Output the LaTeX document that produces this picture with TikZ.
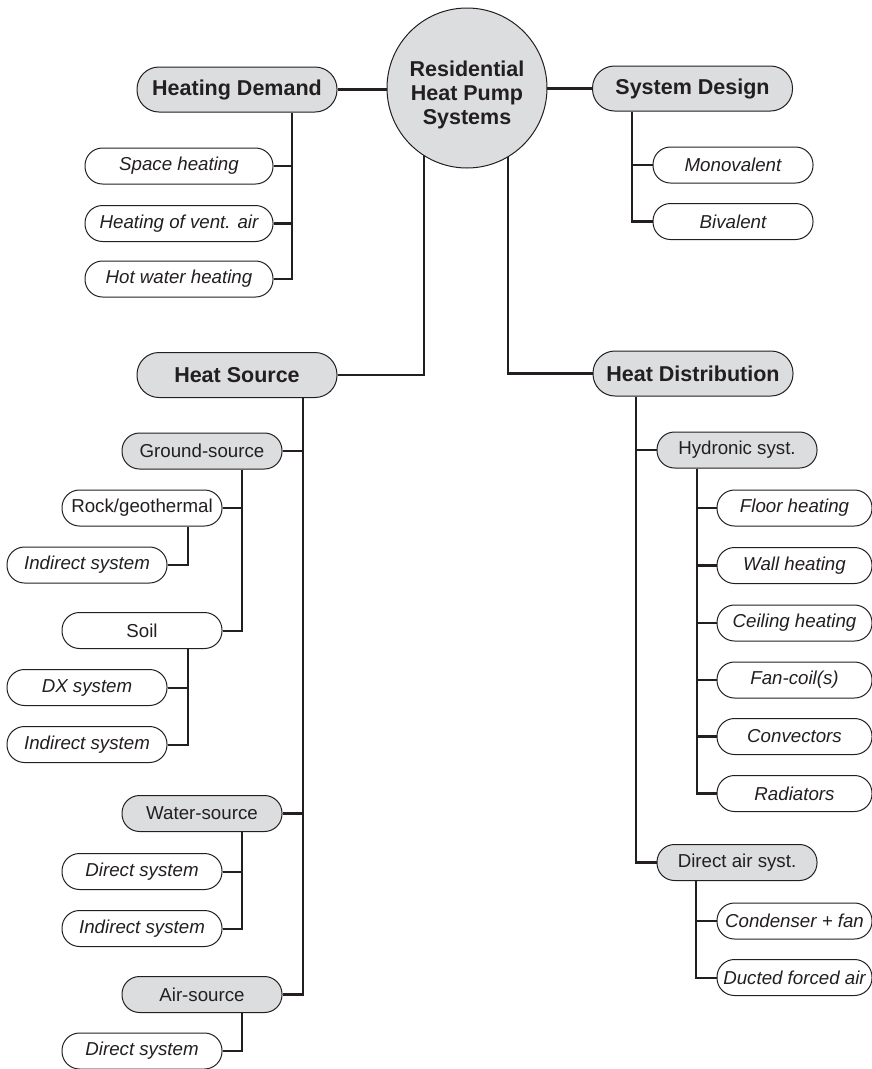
\documentclass[tikz,border=0pt]{standalone}
\usepackage{fontspec}
\setmainfont{Liberation Sans}
\usetikzlibrary{backgrounds}
\definecolor{boxgray}{HTML}{DCDDDE}
\definecolor{ink}{HTML}{231F20}
\tikzset{
  base/.style={draw=ink, text=ink, line width=1pt, inner sep=0pt, align=center},
  mainbox/.style={base, fill=boxgray, rounded corners=22pt, minimum width=200pt, minimum height=45pt,
    font=\bfseries\fontsize{21.5}{25}\selectfont},
  subbox/.style={base, fill=boxgray, rounded corners=17.5pt, minimum width=160pt, minimum height=36pt,
    font=\fontsize{18.7}{22}\selectfont},
  leafbox/.style={base, fill=white, rounded corners=17.5pt, minimum width=160pt, minimum height=36pt,
    font=\itshape\fontsize{18.7}{22}\selectfont},
  plainbox/.style={leafbox, font=\fontsize{18.7}{22}\selectfont},
  rootbox/.style={base, circle, fill=boxgray, minimum size=160pt,
    font=\bfseries\fontsize{21.5}{24}\selectfont},
  heavy/.style={draw=ink, line width=2.8pt},
  light/.style={draw=ink, line width=2pt},
}
\begin{document}
\begin{tikzpicture}[x=1pt, y=-1pt]
\useasboundingbox (0,0) rectangle (872,1069);

% root
\node[rootbox] (root) at (467,88) {\rule{0pt}{29pt}Residential\\Heat Pump\\Systems};

% top level
\node[mainbox] (hd) at (237,89.5) {Heating Demand};
\node[mainbox] (sd) at (692.5,88.5) {System Design};
\node[mainbox] (hs) at (237,375) {Heat Source};
\node[mainbox] (hdist) at (693,373.5) {Heat Distribution};

% heating demand leaves
\node[leafbox, minimum width=188pt] (sh) at (179,166) {Space heating};
\node[leafbox, minimum width=188pt] (va) at (179,223.5) {Heating of vent. air};
\node[leafbox, minimum width=188pt] (hw) at (179,279) {Hot water heating};

% system design leaves
\node[leafbox] (mono) at (733,165) {Monovalent};
\node[leafbox] (biv) at (733,221.5) {Bivalent};

% heat source
\node[subbox] (gs) at (202,451) {Ground-source};
\node[plainbox] (rock) at (142,508) {Rock/geothermal};
\node[leafbox] (rind) at (87,565) {Indirect system};
\node[plainbox] (soil) at (142,630.5) {Soil};
\node[leafbox] (dx) at (87,687.5) {DX system};
\node[leafbox] (sind) at (87,744.5) {Indirect system};
\node[subbox] (ws) at (202,813.5) {Water-source};
\node[leafbox] (wdir) at (142,871.5) {Direct system};
\node[leafbox] (wind) at (142,928.5) {Indirect system};
\node[subbox] (as) at (202,994.5) {Air-source};
\node[leafbox] (adir) at (142,1051) {Direct system};

% heat distribution
\node[subbox] (hyd) at (737,450) {Hydronic syst.};
\node[leafbox, minimum width=155pt] (floor) at (794.5,508) {Floor heating};
\node[leafbox, minimum width=155pt] (wall) at (794.5,565.5) {Wall heating};
\node[leafbox, minimum width=155pt] (ceil) at (794.5,623) {Ceiling heating};
\node[leafbox, minimum width=155pt] (fan) at (794.5,680) {Fan-coil(s)};
\node[leafbox, minimum width=155pt] (conv) at (794.5,736.5) {Convectors};
\node[leafbox, minimum width=155pt] (rad) at (794.5,793.5) {Radiators};
\node[subbox] (dair) at (737,862.5) {Direct air syst.};
\node[leafbox, minimum width=155pt] (cond) at (794.5,921) {Condenser + fan};
\node[leafbox, minimum width=155pt] (duct) at (794.5,977.5) {Ducted forced air};

\begin{pgfonlayer}{background}
  % root connectors
  \draw[heavy] (hd.east) -- (hd.east -| root.center);
  \draw[heavy] (sd.west) -- (sd.west -| root.center);
  \draw[heavy] ([xshift=-43pt]root.center) |- (hs.east);
  \draw[heavy] ([xshift=41pt]root.center) |- (hdist.west);
  % heating demand
  \draw[heavy] ([xshift=55pt]hd.south) |- (sh.east);
  \draw[heavy] ([xshift=55pt]hd.south) |- (va.east);
  \draw[heavy] ([xshift=55pt]hd.south) |- (hw.east);
  % system design
  \draw[heavy] ([xshift=-60.5pt]sd.south) |- (mono.west);
  \draw[heavy] ([xshift=-60.5pt]sd.south) |- (biv.west);
  % heat source
  \draw[heavy] ([xshift=66pt]hs.south) |- (gs.east);
  \draw[heavy] ([xshift=66pt]hs.south) |- (ws.east);
  \draw[heavy] ([xshift=66pt]hs.south) |- (as.east);
  \draw[light] ([xshift=40pt]gs.south) |- (rock.east);
  \draw[light] ([xshift=40pt]gs.south) |- (soil.east);
  \draw[light] ([xshift=46pt]rock.south) |- (rind.east);
  \draw[light] ([xshift=46pt]soil.south) |- (dx.east);
  \draw[light] ([xshift=46pt]soil.south) |- (sind.east);
  \draw[light] ([xshift=40pt]ws.south) |- (wdir.east);
  \draw[light] ([xshift=40pt]ws.south) |- (wind.east);
  \draw[light] ([xshift=40pt]as.south) |- (adir.east);
  % heat distribution
  \draw[heavy] ([xshift=-57pt]hdist.south) |- (hyd.west);
  \draw[heavy] ([xshift=-57pt]hdist.south) |- (dair.west);
  \foreach \n in {floor,wall,ceil,fan,conv,rad}
    \draw[heavy] ([xshift=-40pt]hyd.south) |- (\n.west);
  \draw[light] ([xshift=-41pt]dair.south) |- (cond.west);
  \draw[light] ([xshift=-41pt]dair.south) |- (duct.west);
\end{pgfonlayer}
\end{tikzpicture}
\end{document}
